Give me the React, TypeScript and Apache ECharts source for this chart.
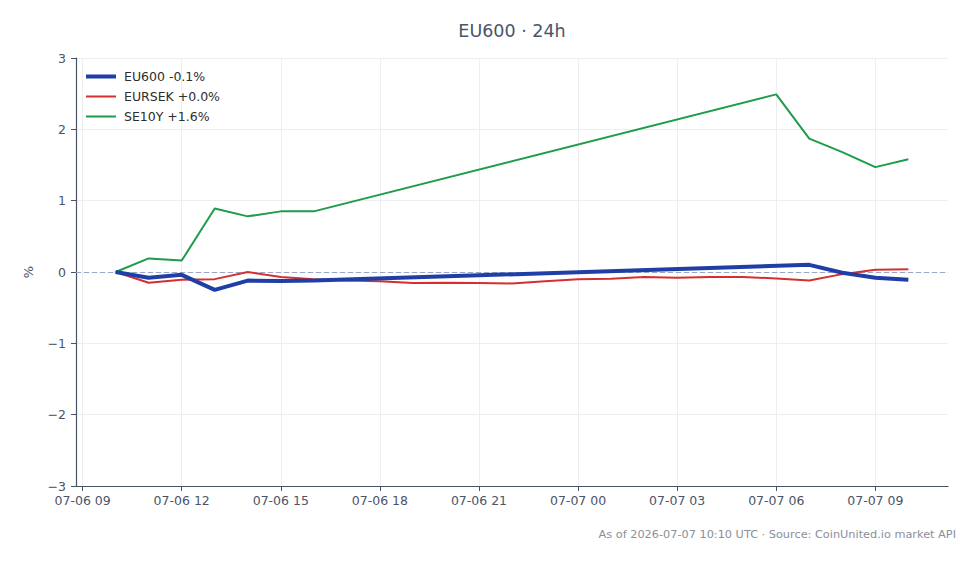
import React, { useEffect, useRef } from "react";
import * as echarts from "echarts";

// Hourly timestamps (UTC) and % change since the window start
const EU600_TIMES = [
  "2026-07-06T10:00Z", "2026-07-06T11:00Z", "2026-07-06T12:00Z", "2026-07-06T13:00Z",
  "2026-07-06T14:00Z", "2026-07-06T15:00Z", "2026-07-06T16:00Z",
  "2026-07-07T07:00Z", "2026-07-07T08:00Z", "2026-07-07T09:00Z", "2026-07-07T10:00Z",
];
const EU600_VALUES = [0, -0.08, -0.04, -0.25, -0.12, -0.125, -0.12, 0.1, -0.01, -0.08, -0.11];

const SE10Y_TIMES = [
  "2026-07-06T10:00Z", "2026-07-06T11:00Z", "2026-07-06T12:00Z", "2026-07-06T13:00Z",
  "2026-07-06T14:00Z", "2026-07-06T15:00Z", "2026-07-06T16:00Z",
  "2026-07-07T06:00Z", "2026-07-07T07:00Z", "2026-07-07T08:00Z", "2026-07-07T09:00Z", "2026-07-07T10:00Z",
];
const SE10Y_VALUES = [0, 0.19, 0.16, 0.89, 0.78, 0.85, 0.85, 2.49, 1.87, 1.68, 1.47, 1.58];

const EURSEK_TIMES = [
  "2026-07-06T10:00Z", "2026-07-06T11:00Z", "2026-07-06T12:00Z", "2026-07-06T13:00Z",
  "2026-07-06T14:00Z", "2026-07-06T15:00Z", "2026-07-06T16:00Z", "2026-07-06T17:00Z",
  "2026-07-06T18:00Z", "2026-07-06T19:00Z", "2026-07-06T20:00Z", "2026-07-06T21:00Z",
  "2026-07-06T22:00Z", "2026-07-06T23:00Z", "2026-07-07T00:00Z", "2026-07-07T01:00Z",
  "2026-07-07T02:00Z", "2026-07-07T03:00Z", "2026-07-07T04:00Z", "2026-07-07T05:00Z",
  "2026-07-07T06:00Z", "2026-07-07T07:00Z", "2026-07-07T08:00Z", "2026-07-07T09:00Z",
  "2026-07-07T10:00Z",
];
const EURSEK_VALUES = [
  0, -0.15, -0.11, -0.1, 0.0, -0.07, -0.1, -0.12, -0.13, -0.155, -0.15, -0.155,
  -0.16, -0.13, -0.1, -0.095, -0.07, -0.08, -0.07, -0.07, -0.09, -0.12, -0.03, 0.03, 0.04,
];

// Tick positions on the time axis (every 3 hours)
const X_TICKS = [
  "2026-07-06T09:00Z", "2026-07-06T12:00Z", "2026-07-06T15:00Z", "2026-07-06T18:00Z",
  "2026-07-06T21:00Z", "2026-07-07T00:00Z", "2026-07-07T03:00Z", "2026-07-07T06:00Z",
  "2026-07-07T09:00Z",
];
const Y_TICKS = [-3, -2, -1, 0, 1, 2, 3];

const X_MIN = Date.parse("2026-07-06T08:48Z");
const X_MAX = Date.parse("2026-07-07T11:12Z");

const pad2 = (n: number) => String(n).padStart(2, "0");
const fmtTime = (v: number) => {
  const d = new Date(v);
  return `${pad2(d.getUTCMonth() + 1)}-${pad2(d.getUTCDate())} ${pad2(d.getUTCHours())}`;
};
const fmtNum = (v: number) => (v < 0 ? "\u2212" + Math.abs(v) : String(v));
const fmtChange = (v: number) => (v >= 0 ? "+" : "-") + Math.abs(v).toFixed(1) + "%";

const pairs = (times: string[], values: number[]) => times.map((t, i) => [Date.parse(t), values[i]]);

const FONT = "DejaVu Sans";
const AXIS_COLOR = "#475266";
const TEXT_COLOR = "#4a5568";

const BLUE = "#1f3ea6";
const RED = "#d62f2f";
const GREEN = "#1e9b4b";

export default function App() {
  const ref = useRef<HTMLDivElement>(null);

  useEffect(() => {
    document.body.style.margin = "0";
    if (!ref.current) return;
    const chart = echarts.init(ref.current, undefined, { renderer: "svg" });

    const eu = `EU600 ${fmtChange(EU600_VALUES[EU600_VALUES.length - 1])}`;
    const sek = `EURSEK ${fmtChange(EURSEK_VALUES[EURSEK_VALUES.length - 1])}`;
    const se = `SE10Y ${fmtChange(SE10Y_VALUES[SE10Y_VALUES.length - 1])}`;

    const xTickValues = X_TICKS.map((t) => Date.parse(t));

    chart.setOption({
      animation: false,
      backgroundColor: "#ffffff",
      textStyle: { fontFamily: FONT },
      legend: {
        orient: "vertical",
        left: 81,
        top: 65,
        itemWidth: 30,
        itemHeight: 10,
        itemGap: 7,
        symbolKeepAspect: true,
        textStyle: { fontFamily: FONT, fontSize: 12.5, color: "#2d2d2d", padding: [0, 0, 0, 3] },
        data: [
          { name: eu, icon: "path://M0 0h30v4H0z" },
          { name: sek, icon: "path://M0 0h30v2H0z" },
          { name: se, icon: "path://M0 0h30v2H0z" },
        ],
      },
      grid: { left: 76, right: 32, top: 58, bottom: 78 },
      xAxis: {
        type: "value",
        min: X_MIN,
        max: X_MAX,
        axisLine: { show: true, onZero: false, lineStyle: { color: AXIS_COLOR, width: 1.2 } },
        axisTick: { show: true, length: 5, customValues: xTickValues, lineStyle: { color: AXIS_COLOR } },
        axisLabel: {
          customValues: xTickValues,
          formatter: (v: number) => fmtTime(v),
          fontFamily: FONT,
          fontSize: 12.5,
          color: TEXT_COLOR,
          margin: 8,
        },
        splitLine: { show: true, lineStyle: { color: "#eceef2", width: 1 } },
      },
      yAxis: {
        type: "value",
        min: Y_TICKS[0],
        max: Y_TICKS[Y_TICKS.length - 1],
        interval: 1,
        name: "%",
        nameLocation: "middle",
        nameGap: 41,
        nameTextStyle: { fontFamily: FONT, fontSize: 13, color: TEXT_COLOR },
        axisLine: { show: true, onZero: false, lineStyle: { color: AXIS_COLOR, width: 1.2 } },
        axisTick: { show: true, length: 5, lineStyle: { color: AXIS_COLOR } },
        axisLabel: {
          formatter: (v: number) => fmtNum(v),
          fontFamily: FONT,
          fontSize: 12.5,
          color: TEXT_COLOR,
          margin: 10,
        },
        splitLine: { show: true, lineStyle: { color: "#eceef2", width: 1 } },
      },
      series: [
        {
          name: eu,
          type: "line",
          data: pairs(EU600_TIMES, EU600_VALUES),
          showSymbol: false,
          symbol: "none",
          color: BLUE,
          lineStyle: { width: 4, color: BLUE },
          z: 4,
          markLine: {
            silent: true,
            symbol: "none",
            z: 1,
            label: { show: false },
            lineStyle: { type: [5, 3], color: "#9aa6c2", width: 1 },
            data: [{ yAxis: 0 }],
          },
        },
        {
          name: sek,
          type: "line",
          data: pairs(EURSEK_TIMES, EURSEK_VALUES),
          showSymbol: false,
          symbol: "none",
          color: RED,
          lineStyle: { width: 2, color: RED },
          z: 3,
        },
        {
          name: se,
          type: "line",
          data: pairs(SE10Y_TIMES, SE10Y_VALUES),
          showSymbol: false,
          symbol: "none",
          color: GREEN,
          lineStyle: { width: 2, color: GREEN },
          z: 3,
        },
      ],
      graphic: [
        {
          type: "text",
          x: 512,
          y: 31,
          style: {
            text: "EU600 · 24h",
            fontFamily: FONT,
            fontSize: 17.5,
            fill: TEXT_COLOR,
            textAlign: "center",
            textVerticalAlign: "middle",
          },
        },
        {
          type: "text",
          x: 956,
          y: 534,
          style: {
            text: "As of 2026-07-07 10:10 UTC · Source: CoinUnited.io market API",
            fontFamily: FONT,
            fontSize: 11.3,
            fill: "#8a8f98",
            textAlign: "right",
            textVerticalAlign: "middle",
          },
        },
      ],
    });

    return () => chart.dispose();
  }, []);

  return <div ref={ref} style={{ width: 980, height: 564 }} />;
}
